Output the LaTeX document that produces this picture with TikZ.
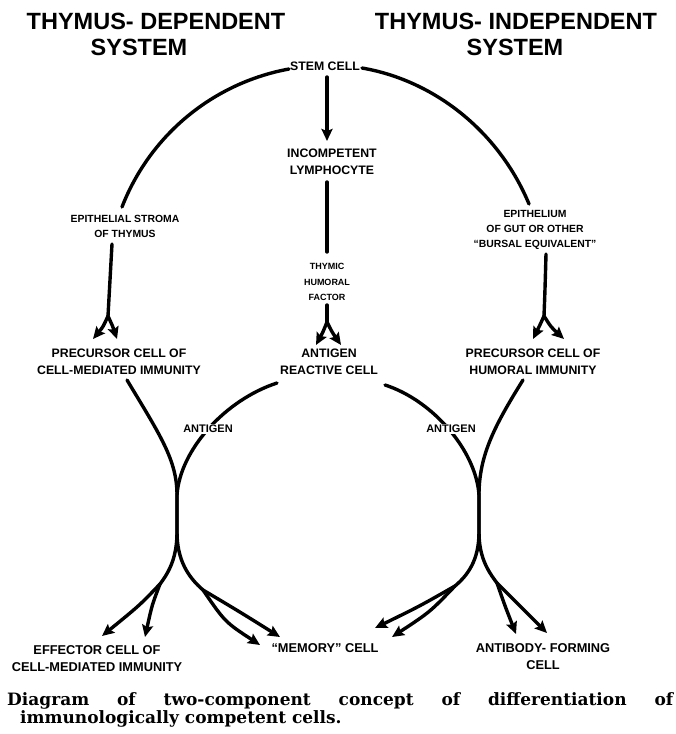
\documentclass[tikz,border=0pt]{standalone}
\usepackage{fontspec}
\setmainfont{DejaVu Serif}
\newfontfamily\labfont{Liberation Sans}
\newfontfamily\headfont{Liberation Sans}
\newfontfamily\capfont{DejaVu Serif}
\usetikzlibrary{arrows.meta,calc}
\tikzset{
  lab/.style={font=\labfont\bfseries\fontsize{12.3}{17}\selectfont, align=center, inner sep=0pt},
  blab/.style={font=\labfont\bfseries\fontsize{12.8}{17}\selectfont, align=center, inner sep=0pt},
  slab/.style={font=\labfont\bfseries\fontsize{10.4}{15}\selectfont, align=center, inner sep=0pt},
  tlab/.style={font=\labfont\bfseries\fontsize{9}{15.5}\selectfont, align=center, inner sep=0pt},
  aglab/.style={font=\labfont\bfseries\fontsize{11}{12}\selectfont, fill=white, inner sep=1.5pt},
  head/.style={font=\headfont\bfseries\fontsize{23.5}{26}\selectfont, inner sep=0pt},
  ln/.style={line width=3.4pt, line cap=round, line join=round},
  arr/.style={ln, -{Stealth[length=12pt,width=11pt,inset=2pt]}},
}
\begin{document}
\begin{tikzpicture}[x=1pt,y=-1pt]
\useasboundingbox (0,0) rectangle (676,734);

% headers
\node[head] (h1a) at (156,21) {THYMUS- DEPENDENT};
\node[head] (h1b) at (139,47) {SYSTEM};
\node[head] (h2a) at (516,21) {THYMUS- INDEPENDENT};
\node[head] (h2b) at (515,47) {SYSTEM};

% labels
\node[lab] (stem) at (325,66) {STEM CELL};
\node[lab] (inc) at (332,162) {INCOMPETENT\\LYMPHOCYTE};
\node[tlab] (thf) at (327,282) {THYMIC\\HUMORAL\\FACTOR};
\node[slab] (epiL) at (125,226) {EPITHELIAL STROMA\\OF THYMUS};
\node[slab] (epiR) at (535,230) {EPITHELIUM\\OF GUT OR OTHER\\“BURSAL EQUIVALENT”};
\node[lab] (precL) at (119,362) {PRECURSOR CELL OF\\CELL-MEDIATED IMMUNITY};
\node[lab] (ar) at (329,362) {ANTIGEN\\REACTIVE CELL};
\node[lab] (precR) at (533,362) {PRECURSOR CELL OF\\HUMORAL IMMUNITY};
\node[blab] (eff) at (97,659) {EFFECTOR CELL OF\\CELL-MEDIATED IMMUNITY};
\node[blab] (mem) at (325,648) {“MEMORY” CELL};
\node[blab] (afc) at (543,657) {ANTIBODY- FORMING\\CELL};

% caption
\node[anchor=north west, text width=666pt, inner sep=0pt, align=justify,
      font=\capfont\bfseries\fontsize{17}{18}\selectfont] (cap) at (7,692)
  {Diagram of two-component concept of differentiation of\linebreak\hspace*{13pt}immunologically competent cells.};

% coordinates
\coordinate (stL) at (289,69);
\coordinate (stR) at (362,68);
\coordinate (epiLt) at (122,207);
\coordinate (epiRt) at (529,204);
\coordinate (epiLb) at (112,244);
\coordinate (epiRb) at (546,254);
\coordinate (fL) at (108,316);
\coordinate (fR) at (544,316);
\coordinate (stB) at (327,77);
\coordinate (incT) at (327,141);
\coordinate (incB) at (327,182);
\coordinate (thfT) at (327,252);
\coordinate (thfB) at (327,305);
\coordinate (fC) at (327,322);
\coordinate (tL1) at (93,339);
\coordinate (tL2) at (117,339);
\coordinate (tC1) at (316,345);
\coordinate (tC2) at (341,345);
\coordinate (tR1) at (533,339);
\coordinate (tR2) at (564,339);

\coordinate (pLs) at (127,380);
\coordinate (arLs) at (277,383);
\coordinate (arRs) at (385,385);
\coordinate (pRs) at (523,380);
\coordinate (xL1) at (177,495);
\coordinate (xL2) at (177,532);
\coordinate (xR1) at (479,495);
\coordinate (xR2) at (479,532);
\coordinate (fEff) at (160,584);
\coordinate (fMemL) at (203,590);
\coordinate (fMemR) at (455,586);
\coordinate (fAfc) at (497,583);
\coordinate (e1) at (102,636);
\coordinate (e2) at (145,637);
\coordinate (m1) at (260,645);
\coordinate (m2) at (280,637);
\coordinate (m3) at (375,628);
\coordinate (m4) at (392,637);
\coordinate (a1) at (516,634);
\coordinate (a2) at (547,633);

% top arcs
\draw[ln] (stL) .. controls (213,83) and (150,135) .. (epiLt);
\draw[ln] (stR) .. controls (437,81) and (500,134) .. (epiRt);

% central column
\draw[arr] (stB) -- (incT);
\draw[ln] (incB) -- (thfT);
\draw[ln] (thfB) -- (fC);
\draw[arr] (fC) .. controls (323,332) .. (tC1);
\draw[arr] (fC) .. controls (332,332) .. (tC2);

% left column
\draw[ln] (epiLb) .. controls (110,280) .. (fL);
\draw[arr] (fL) .. controls (103,327) .. (tL1);
\draw[arr] (fL) .. controls (113,327) .. (tL2);

% right column
\draw[ln] (epiRb) .. controls (545,290) .. (fR);
\draw[arr] (fR) .. controls (539,327) .. (tR1);
\draw[arr] (fR) .. controls (551,327) .. (tR2);

% lower left crossing
\draw[ln] (pLs) .. controls (160,435) and (177,460) .. (xL1) -- (xL2)
          .. controls (177,556) and (170,571) .. (fEff);
\draw[ln] (arLs) .. controls (225,400) and (180,450) .. (xL1) -- (xL2)
          .. controls (177,560) and (188,577) .. (fMemL);
\draw[arr] (fEff) .. controls (140,605) .. (e1);
\draw[arr] (fEff) .. controls (152,605) .. (e2);
\draw[arr] (fMemL) .. controls (225,622) .. (m1);
\draw[arr] (fMemL) .. controls (240,612) .. (m2);

% lower right crossing
\draw[ln] (pRs) .. controls (495,425) and (479,455) .. (xR1) -- (xR2)
          .. controls (479,556) and (487,570) .. (fAfc);
\draw[ln] (arRs) .. controls (432,400) and (476,450) .. (xR1) -- (xR2)
          .. controls (479,560) and (468,575) .. (fMemR);
\draw[arr] (fMemR) .. controls (420,606) .. (m3);
\draw[arr] (fMemR) .. controls (430,612) .. (m4);
\draw[arr] (fAfc) .. controls (505,606) .. (a1);
\draw[arr] (fAfc) .. controls (520,606) .. (a2);

% antigen labels on curves
\node[aglab] (agL) at (208,429) {ANTIGEN};
\node[aglab] (agR) at (451,429) {ANTIGEN};
\end{tikzpicture}
\end{document}
